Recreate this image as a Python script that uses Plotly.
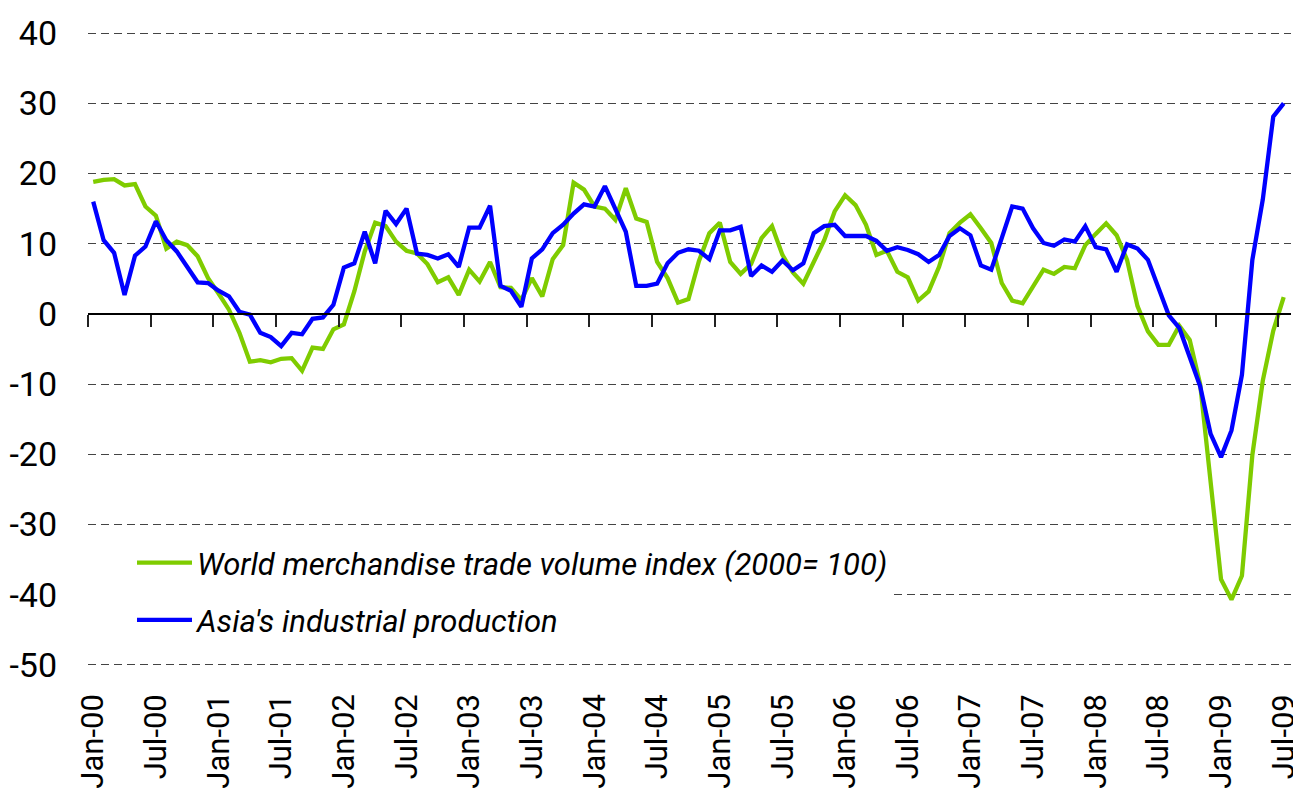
import plotly.graph_objects as go

# Monthly series, Jan-2000 .. Jul-2009 (115 months), % change
world_trade = [
    18.8, 19.1, 19.2, 18.3, 18.5, 15.3, 14.0, 9.3, 10.3, 9.8, 8.2, 5.1,
    2.9, 0.6, -2.7, -6.8, -6.6, -6.9, -6.4, -6.3, -8.1, -4.8, -5.0, -2.2,
    -1.5, 3.2, 8.9, 13.0, 12.5, 10.3, 9.0, 8.6, 7.1, 4.5, 5.2, 2.7,
    6.3, 4.6, 7.4, 3.8, 3.7, 2.0, 5.1, 2.5, 7.8, 9.8, 18.7, 17.7,
    15.3, 15.0, 13.4, 17.9, 13.6, 13.1, 7.4, 5.1, 1.6, 2.1, 7.5, 11.5,
    13.0, 7.4, 5.7, 7.1, 10.8, 12.5, 8.4, 5.9, 4.3, 7.4, 10.5, 14.6,
    16.9, 15.5, 12.7, 8.4, 9.0, 6.0, 5.2, 1.9, 3.2, 6.7, 11.5, 13.0,
    14.2, 12.2, 10.1, 4.4, 1.9, 1.5, 3.9, 6.3, 5.7, 6.7, 6.5, 9.8,
    11.4, 12.9, 11.2, 7.7, 1.1, -2.5, -4.4, -4.4, -1.7, -3.7, -10.0, -24.6,
    -37.8, -40.7, -37.3, -20.1, -9.5, -2.4, 2.4,
]
asia_ip = [
    16.0, 10.5, 8.7, 2.7, 8.3, 9.6, 13.2, 10.5, 8.9, 6.6, 4.5, 4.4,
    3.3, 2.5, 0.3, -0.1, -2.7, -3.3, -4.6, -2.7, -2.9, -0.7, -0.5, 1.3,
    6.6, 7.2, 11.7, 7.2, 14.7, 12.8, 15.0, 8.6, 8.4, 7.9, 8.5, 6.7,
    12.3, 12.3, 15.4, 4.0, 3.3, 1.0, 7.9, 9.2, 11.5, 12.7, 14.3, 15.6,
    15.3, 18.2, 14.9, 11.7, 4.0, 4.0, 4.3, 7.2, 8.7, 9.2, 9.0, 7.8,
    11.9, 11.9, 12.4, 5.4, 6.9, 6.0, 7.6, 6.2, 7.2, 11.5, 12.5, 12.7,
    11.1, 11.1, 11.1, 10.4, 9.0, 9.5, 9.1, 8.5, 7.4, 8.4, 11.1, 12.2,
    11.2, 6.9, 6.3, 10.8, 15.3, 15.0, 12.2, 10.1, 9.7, 10.6, 10.3, 12.5,
    9.5, 9.2, 6.0, 9.9, 9.3, 7.7, 3.9, -0.2, -2.0, -6.0, -10.3, -17.1,
    -20.4, -16.6, -8.7, 7.7, 16.3, 28.1, 30.0,
]
tick_labels = [
    "Jan-00", "Jul-00", "Jan-01", "Jul-01", "Jan-02", "Jul-02", "Jan-03",
    "Jul-03", "Jan-04", "Jul-04", "Jan-05", "Jul-05", "Jan-06", "Jul-06",
    "Jan-07", "Jul-07", "Jan-08", "Jul-08", "Jan-09", "Jul-09",
]
y_ticks = [-50, -40, -30, -20, -10, 0, 10, 20, 30, 40]
y_tick_text = ["-50", "-40", "-30", "-20", "-10", "0", "10", "20", "30", "40"]
series_names = ["World merchandise trade volume index (2000= 100)",
                "Asia's industrial production"]

months = list(range(len(world_trade)))
tick_pos = [i * 6 for i in range(len(tick_labels))]
boundary_pos = [p - 0.5 for p in tick_pos]

FONT = "Roboto, Liberation Sans, sans-serif"
x_range = [-0.5, 114.7]
y_range = [-50.3, 40.3]

fig = go.Figure()
fig.add_trace(go.Scatter(
    x=months, y=world_trade, mode="lines", name=series_names[0],
    line=dict(color="#7FCC00", width=4.3), legendgroup="a",
    xaxis="x", yaxis="y",
))
fig.add_trace(go.Scatter(
    x=months, y=asia_ip, mode="lines", name=series_names[1],
    line=dict(color="#0000FF", width=4.3), legendgroup="b",
    xaxis="x2", yaxis="y",
))

zero_pos = (0 - y_range[0]) / (y_range[1] - y_range[0])

fig.update_layout(
    width=1293, height=782,
    template="none",
    paper_bgcolor="white", plot_bgcolor="white",
    margin=dict(l=80, r=10, t=23, b=123, autoexpand=False),
    font=dict(family=FONT, color="black", size=31),
    showlegend=True,
    legend=dict(
        x=0.0, y=0.206, xanchor="left", yanchor="top",
        bgcolor="white", borderwidth=0,
        font=dict(family=FONT, size=31, color="black", style="italic"),
        tracegroupgap=14,
        traceorder="grouped",
        itemwidth=55,
        indentation=44,
    ),
    xaxis=dict(
        range=x_range, showgrid=False, zeroline=False, showline=False,
        tickmode="array", tickvals=tick_pos, ticktext=tick_labels,
        tickangle=-90, ticks="", ticklabelstandoff=20,
        ticklabeloverflow="allow",
        tickfont=dict(family=FONT, size=31, color="black"),
        automargin=False,
    ),
    xaxis2=dict(
        range=x_range, overlaying="x", anchor="free", position=zero_pos,
        showgrid=False, zeroline=False, showline=True, linecolor="black",
        linewidth=1.5, tickmode="array", tickvals=boundary_pos,
        ticks="outside", ticklen=12, tickwidth=2, tickcolor="#222222",
        showticklabels=False, automargin=False,
    ),
    yaxis=dict(
        range=y_range, tickmode="array", tickvals=y_ticks, ticktext=y_tick_text,
        showgrid=True, gridcolor="#444444", gridwidth=1.2, griddash="8px,5px",
        zeroline=True, zerolinecolor="black", zerolinewidth=1.5,
        showline=False, ticks="", ticklabelstandoff=30,
        tickfont=dict(family=FONT, size=34, color="black"),
        automargin=False,
    ),
)

fig.write_html("out.html")
